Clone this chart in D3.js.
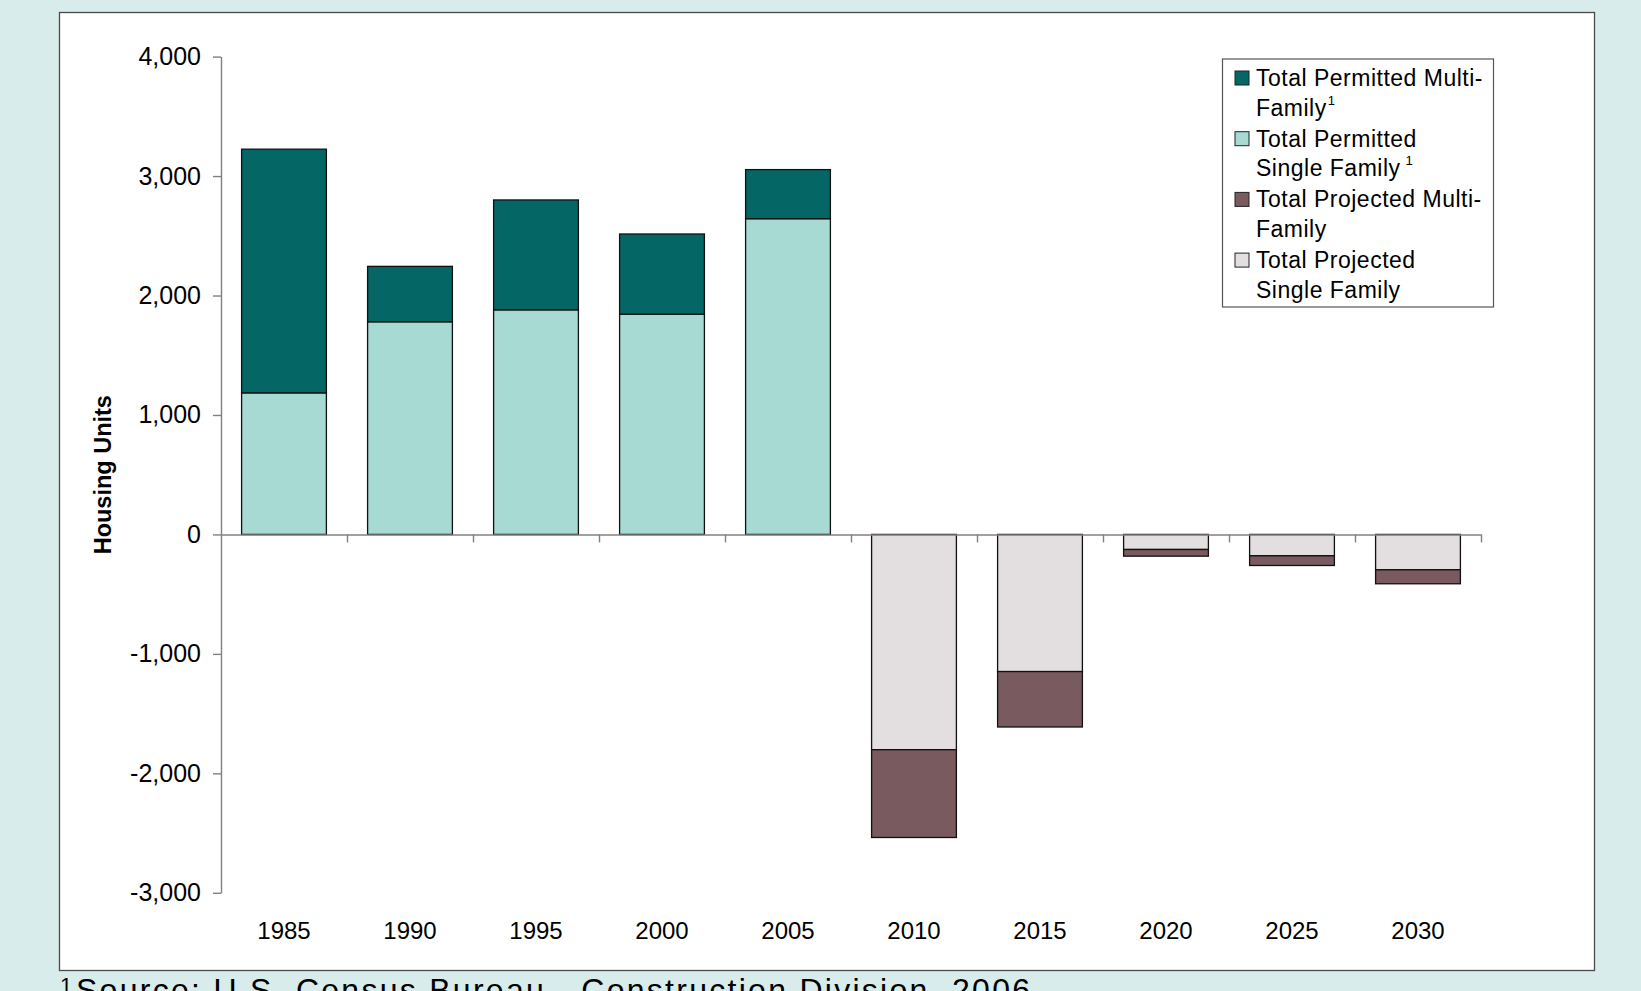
<!DOCTYPE html>
<html>
<head>
<meta charset="utf-8">
<script src="https://cdn.jsdelivr.net/npm/d3@7"></script>
<style>
  html, body { margin: 0; padding: 0; background: #d8edeb; }
  svg { display: block; font-family: "Liberation Sans", Arial, sans-serif; }
</style>
</head>
<body>
<svg id="chart" width="1641" height="991"></svg>
<script>
// Housing units by five-year period: permitted (historic) and projected
const years = ["1985", "1990", "1995", "2000", "2005", "2010", "2015", "2020", "2025", "2030"];
const permittedSingle = [1185, 1780, 1880, 1844, 2643, 0, 0, 0, 0, 0];
const permittedMulti  = [2040, 464, 920, 671, 411, 0, 0, 0, 0, 0];
const projectedSingle = [0, 0, 0, 0, 0, -1802, -1148, -126, -179, -296];
const projectedMulti  = [0, 0, 0, 0, 0, -735, -464, -56, -81, -117];

const yTicks = [-3000, -2000, -1000, 0, 1000, 2000, 3000, 4000];

const seriesKeys = ["permittedSingle", "permittedMulti", "projectedSingle", "projectedMulti"];
const seriesColors = {
  permittedMulti: "#056666",
  permittedSingle: "#a6dad2",
  projectedMulti: "#785a5f",
  projectedSingle: "#e3dedf"
};

// Legend entries (top to bottom), each wrapped over two lines
const legendKeys = ["permittedMulti", "permittedSingle", "projectedMulti", "projectedSingle"];
const legendLines = [
  ["Total Permitted Multi-", "Family"],
  ["Total Permitted", "Single Family"],
  ["Total Projected Multi-", "Family"],
  ["Total Projected", "Single Family"]
];
const legendNotes = ["1", "1", "", ""];

const svg = d3.select("#chart");
const W = 1641, H = 991;

svg.append("rect").attr("width", W).attr("height", H).attr("fill", "#d8edeb");

// White chart panel
svg.append("rect")
  .attr("x", 59.5).attr("y", 12.5)
  .attr("width", 1535).attr("height", 958)
  .attr("fill", "#ffffff")
  .attr("stroke", "#4a4a4a").attr("stroke-width", 1.3);

const plot = { left: 221, right: 1481, top: 56.6, bottom: 892.8 };

const x = d3.scaleBand()
  .domain(years)
  .range([plot.left, plot.right])
  .paddingInner(0.327)
  .paddingOuter(0.1635);

const y = d3.scaleLinear()
  .domain([-3000, 4000])
  .range([plot.bottom, plot.top]);

const rows = years.map((yr, i) => ({
  year: yr,
  permittedSingle: permittedSingle[i],
  permittedMulti: permittedMulti[i],
  projectedSingle: projectedSingle[i],
  projectedMulti: projectedMulti[i]
}));

const stacked = d3.stack()
  .keys(seriesKeys)
  .offset(d3.stackOffsetDiverging)(rows);

// Bars
const layers = svg.append("g").selectAll("g")
  .data(stacked)
  .join("g")
  .attr("fill", d => seriesColors[d.key]);

layers.selectAll("rect")
  .data(d => d.filter(s => s[1] !== s[0]))
  .join("rect")
  .attr("x", d => x(d.data.year))
  .attr("width", x.bandwidth())
  .attr("y", d => y(Math.max(d[0], d[1])))
  .attr("height", d => Math.abs(y(d[0]) - y(d[1])))
  .attr("stroke", "#111")
  .attr("stroke-width", 1.3);

// Y axis
const fmt = d3.formatLocale({ decimal: ".", thousands: ",", grouping: [3], currency: ["$", ""], minus: "-" }).format(",");
const yAxis = svg.append("g")
  .attr("transform", `translate(${plot.left},0)`)
  .call(d3.axisLeft(y).tickValues(yTicks).tickFormat(fmt).tickSize(8).tickSizeOuter(0).tickPadding(12));
yAxis.selectAll("text").attr("font-size", 25).attr("fill", "#000").attr("font-family", "Liberation Sans, Arial, sans-serif");
yAxis.selectAll("line, path").attr("stroke", "#808080").attr("stroke-width", 1.4);

// Zero baseline with ticks between categories
const slot = d3.scaleLinear().domain([0, years.length]).range([plot.left, plot.right]);
const xAxis = svg.append("g")
  .attr("transform", `translate(0,${y(0)})`)
  .call(d3.axisBottom(slot).tickValues(d3.range(1, years.length + 1)).tickFormat("").tickSize(8).tickSizeOuter(0));
xAxis.selectAll("line, path").attr("stroke", "#808080").attr("stroke-width", 1.4);

// Year labels along the bottom
const xLabels = svg.append("g")
  .attr("transform", `translate(0,${plot.bottom + 29})`)
  .call(d3.axisBottom(x).tickSize(0).tickPadding(0));
xLabels.select(".domain").remove();
xLabels.selectAll("text").attr("font-size", 24).attr("fill", "#000").attr("font-family", "Liberation Sans, Arial, sans-serif");

// Y axis title
svg.append("text")
  .attr("transform", `translate(111,${(plot.top + plot.bottom) / 2}) rotate(-90)`)
  .attr("text-anchor", "middle")
  .attr("font-size", 23.5)
  .attr("font-weight", "bold")
  .text("Housing Units");

// Legend
const legend = svg.append("g");
legend.append("rect")
  .attr("x", 1222.5).attr("y", 59)
  .attr("width", 271).attr("height", 248)
  .attr("fill", "#fff")
  .attr("stroke", "#555").attr("stroke-width", 1.2);

legendKeys.forEach((k, i) => {
  const base = 86 + i * 60.7;
  legend.append("rect")
    .attr("x", 1235).attr("y", base - 15)
    .attr("width", 14).attr("height", 14)
    .attr("fill", seriesColors[k])
    .attr("stroke", "#222").attr("stroke-width", 1);
  legendLines[i].forEach((line, j) => {
    const t = legend.append("text")
      .attr("x", 1256).attr("y", base + j * 29.5)
      .attr("font-size", 23)
      .attr("letter-spacing", 0.5)
      .text(line);
    if (j === 1 && legendNotes[i]) {
      t.append("tspan")
        .attr("font-size", 13)
        .attr("dx", i === 1 ? 5 : 1)
        .attr("dy", -11)
        .text(legendNotes[i]);
    }
  });
});

// Source note
svg.append("text")
  .attr("x", 60).attr("y", 993)
  .attr("font-size", 22)
  .text("1");
svg.append("text")
  .attr("x", 76).attr("y", 1001)
  .attr("font-size", 32)
  .attr("textLength", 954)
  .attr("lengthAdjust", "spacing")
  .text("Source: U.S. Census Bureau - Construction Division, 2006");
</script>
</body>
</html>
